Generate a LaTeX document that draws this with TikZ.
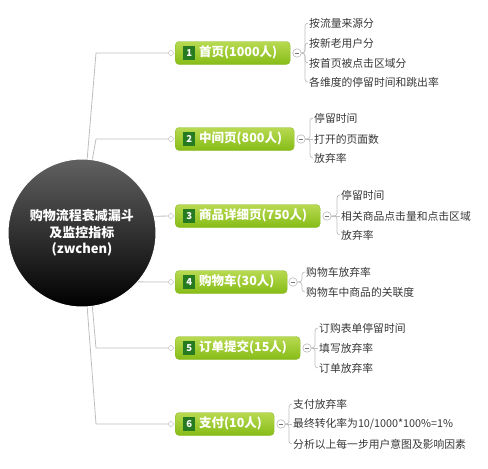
\documentclass[tikz,border=0pt]{standalone}
\usepackage{fontspec}
\setmainfont{Noto Sans CJK SC}
\usepackage{xcolor}
\usetikzlibrary{calc,positioning}
\definecolor{boxtop}{RGB}{184,218,82}
\definecolor{boxbot}{RGB}{134,188,22}
\definecolor{boxedge}{RGB}{140,186,40}
\definecolor{numgreen}{RGB}{38,122,32}
\definecolor{linegray}{RGB}{190,190,190}
\definecolor{leaftext}{RGB}{55,55,55}
\newcommand{\numsq}[1]{{\setlength{\fboxsep}{1.5pt}\colorbox{numgreen}{\rule[-2pt]{0pt}{11pt}\makebox[9pt]{\fontsize{9.5}{10}\selectfont\bfseries #1}}}\hspace{4pt}}

\begin{document}
\begin{tikzpicture}[x=1pt,y=-1pt]
    \useasboundingbox (0,0) rectangle (488,469);
    \tikzset{
        topic/.style={rounded corners=4pt, draw=boxedge, top color=boxtop, bottom color=boxbot,
            minimum height=23pt, inner xsep=8pt, inner ysep=0pt, anchor=west, align=left,
            text=white, font=\fontsize{12.5}{15}\selectfont\bfseries},
        fold/.style={circle, draw=gray!75, fill=white, minimum size=8.5pt, inner sep=0pt,
            path picture={\draw[gray!90!black, line width=0.6pt]
                ([xshift=-2.2pt]path picture bounding box.center) --
                ([xshift=2.2pt]path picture bounding box.center);}},
        knob/.style={circle, draw=gray!60, fill=white, minimum size=5pt, inner sep=0pt},
        leaf/.style={anchor=west, inner xsep=1pt, inner ysep=1pt, text=leaftext,
            font=\fontsize{10.8}{13}\selectfont},
        branch/.style={draw=linegray, line width=0.8pt},
        twig/.style={draw=linegray, line width=0.7pt, rounded corners=3pt}
    }
    % Centre
    \node[circle, minimum size=148pt, inner sep=0pt, draw=white, line width=1pt,
          top color=black!62, middle color=black, bottom color=black,
          text=white, align=center, font=\fontsize{13}{16.5}\selectfont\bfseries]
          (root) at (82,233) {购物流程衰减漏斗\\及监控指标\\(zwchen)};
    % Topics
    \node[topic, text width=99pt]  (b1) at (175,53)  {\numsq{1}首页(1000人)};
    \node[topic, text width=103pt] (b2) at (175,139) {\numsq{2}中间页(800人)};
    \node[topic, text width=129pt] (b3) at (175,216) {\numsq{3}商品详细页(750人)};
    \node[topic, text width=96pt]  (b4) at (175,282) {\numsq{4}购物车(30人)};
    \node[topic, text width=109pt] (b5) at (175,348) {\numsq{5}订单提交(15人)};
    \node[topic, text width=83pt]  (b6) at (175,424) {\numsq{6}支付(10人)};
    \node[knob] (k1) at (171,53) {};
    \node[knob] (k2) at (171,139) {};
    \node[knob] (k3) at (171,216) {};
    \node[knob] (k4) at (171,282) {};
    \node[knob] (k5) at (171,348) {};
    \node[knob] (k6) at (171,424) {};
    \node[fold] (f1) at (297,53) {};
    \node[fold] (f2) at (301,139) {};
    \node[fold] (f3) at (327,216) {};
    \node[fold] (f4) at (293,282) {};
    \node[fold] (f5) at (307,348) {};
    \node[fold] (f6) at (281,424) {};
    % Branches
    \draw[branch] (root.86) -- (96,53) -- (k1);
    \draw[branch] (root.82) -- (96,139) -- (k2);
    \draw[branch] (root.13) -- (k3);
    \draw[branch] (root.-41) -- (k4);
    \draw[branch] (root.-82) -- (96,348) -- (k5);
    \draw[branch] (root.-86) -- (96,424) -- (k6);
    % Leaves
    \node[leaf] (b1a) at (308,23) {按流量来源分};
    \node[leaf] (b1b) at (308,43) {按新老用户分};
    \node[leaf] (b1c) at (308,63) {按首页被点击区域分};
    \node[leaf] (b1d) at (308,82) {各维度的停留时间和跳出率};
    \node[leaf] (b2a) at (313,118) {停留时间};
    \node[leaf] (b2b) at (313,139) {打开的页面数};
    \node[leaf] (b2c) at (313,158) {放弃率};
    \node[leaf] (b3a) at (340,195) {停留时间};
    \node[leaf] (b3b) at (340,216) {相关商品点击量和点击区域};
    \node[leaf] (b3c) at (340,235) {放弃率};
    \node[leaf] (b4a) at (305,272) {购物车放弃率};
    \node[leaf] (b4b) at (305,292) {购物车中商品的关联度};
    \node[leaf] (b5a) at (318,328) {订购表单停留时间};
    \node[leaf] (b5b) at (318,348) {填写放弃率};
    \node[leaf] (b5c) at (318,368) {订单放弃率};
    \node[leaf] (b6a) at (292,404) {支付放弃率};
    \node[leaf] (b6b) at (292,424) {最终转化率为10/1000*100\%=1\%};
    \node[leaf] (b6c) at (292,444) {分析以上每一步用户意图及影响因素};
    % Twigs
    \draw[twig] (f1.east) -- (305,53) |- (b1a.west);
    \draw[twig] (f1.east) -- (305,53) |- (b1b.west);
    \draw[twig] (f1.east) -- (305,53) |- (b1c.west);
    \draw[twig] (f1.east) -- (305,53) |- (b1d.west);
    \draw[twig] (f2.east) -- (310,139) |- (b2a.west);
    \draw[twig] (f2.east) -- (b2b.west);
    \draw[twig] (f2.east) -- (310,139) |- (b2c.west);
    \draw[twig] (f3.east) -- (337,216) |- (b3a.west);
    \draw[twig] (f3.east) -- (b3b.west);
    \draw[twig] (f3.east) -- (337,216) |- (b3c.west);
    \draw[twig] (f4.east) -- (302,282) |- (b4a.west);
    \draw[twig] (f4.east) -- (302,282) |- (b4b.west);
    \draw[twig] (f5.east) -- (315,348) |- (b5a.west);
    \draw[twig] (f5.east) -- (b5b.west);
    \draw[twig] (f5.east) -- (315,348) |- (b5c.west);
    \draw[twig] (f6.east) -- (289,424) |- (b6a.west);
    \draw[twig] (f6.east) -- (b6b.west);
    \draw[twig] (f6.east) -- (289,424) |- (b6c.west);
\end{tikzpicture}
\end{document}
